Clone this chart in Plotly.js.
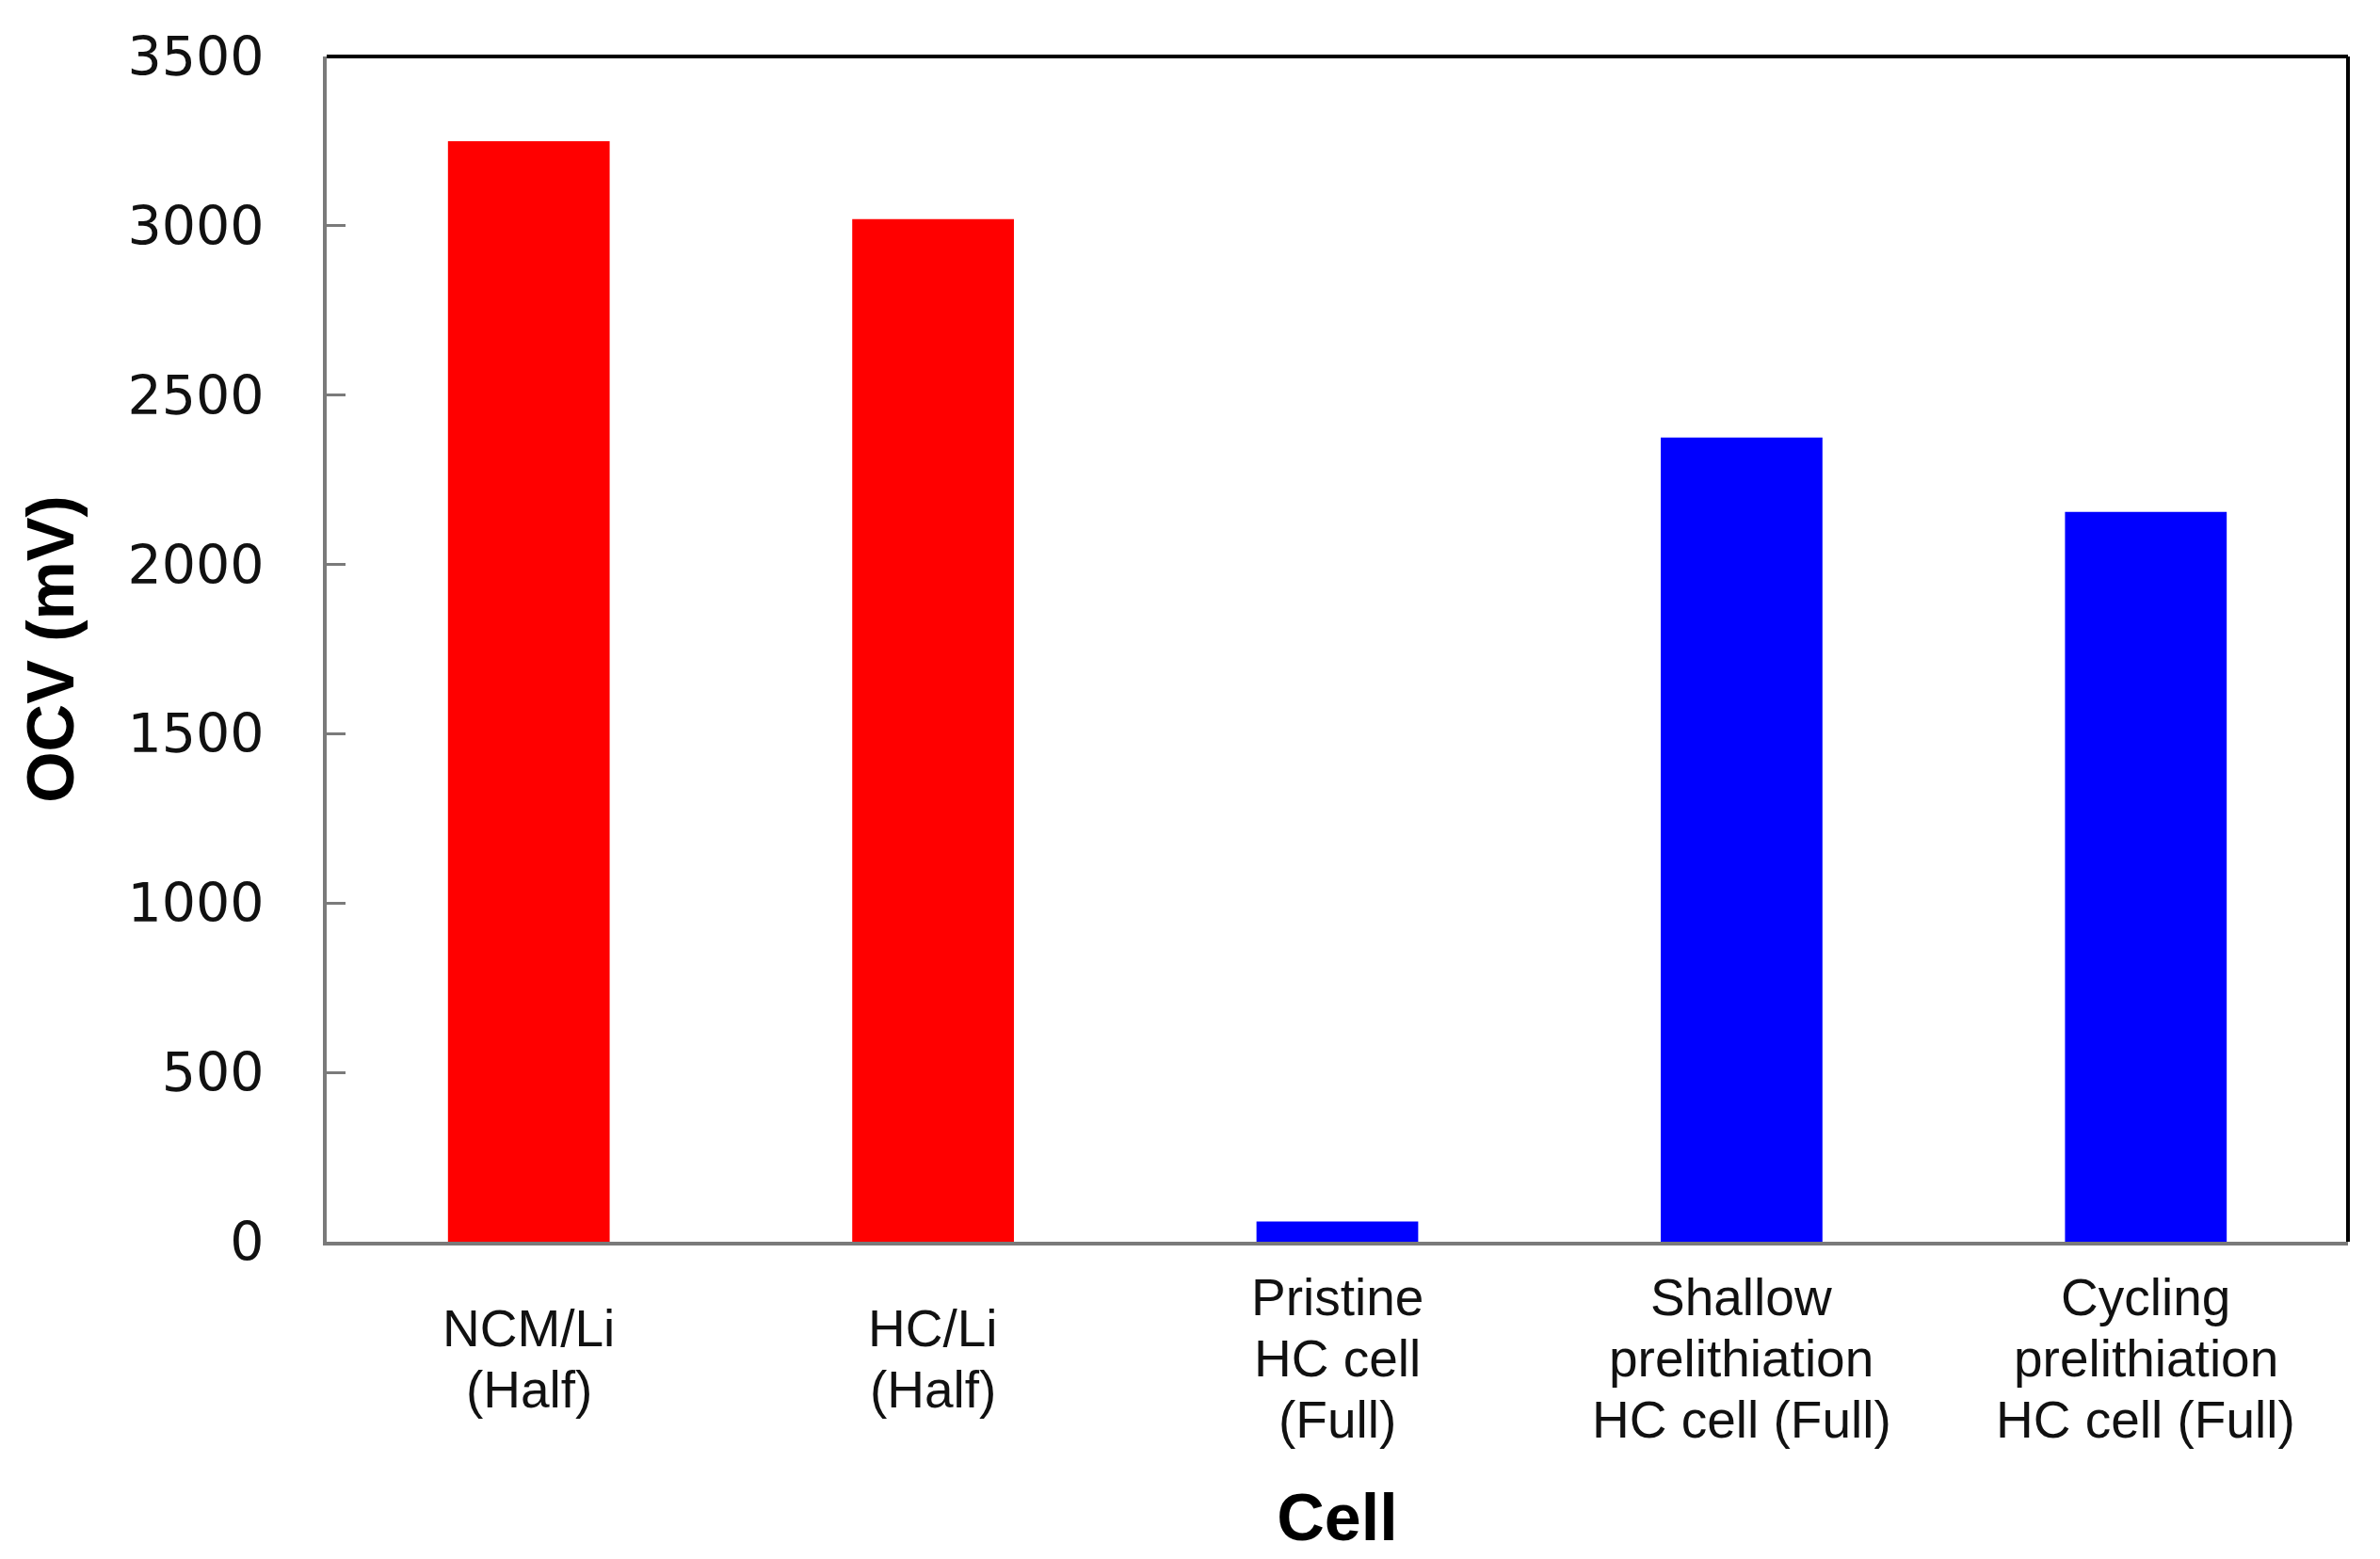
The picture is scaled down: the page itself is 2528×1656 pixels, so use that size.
<!DOCTYPE html>
<html>
<head>
<meta charset="utf-8">
<script src="https://cdn.plot.ly/plotly-3.0.1.min.js"></script>
<style>html,body{margin:0;padding:0;background:#fff;}</style>
</head>
<body>
<div id="chart" style="width:2528px;height:1656px;"></div>
<script>
// Data
var categories = [
  "NCM/Li<br>(Half)",
  "HC/Li<br>(Half)",
  "Pristine<br>HC cell<br>(Full)",
  "Shallow<br>prelithiation<br>HC cell (Full)",
  "Cycling<br>prelithiation<br>HC cell (Full)"
];
var ocvValues = [3250, 3020, 60, 2375, 2155];
var barColors = ["#FF0000", "#FF0000", "#0000FF", "#0000FF", "#0000FF"];
var yTickValues = [0, 500, 1000, 1500, 2000, 2500, 3000, 3500];
var xTitle = "Cell";
var yTitle = "OCV (mV)";

var trace = {
  type: "bar",
  x: categories,
  y: ocvValues,
  width: 0.4,
  marker: { color: barColors, line: { width: 0 } },
  hoverinfo: "x+y"
};

// Category labels as centered multi-line annotations
var annotations = [];
var lineGap = 65;
categories.forEach(function (cat) {
  var lines = cat.split("<br>");
  var n = lines.length;
  lines.forEach(function (ln, j) {
    annotations.push({
      x: cat, xref: "x",
      y: -0.0985, yref: "paper",
      yshift: -(j - (n - 1) / 2) * lineGap,
      text: ln,
      showarrow: false,
      xanchor: "center", yanchor: "middle",
      font: { family: "Liberation Sans, Arial, sans-serif", size: 55, color: "#111" }
    });
  });
});

var layout = {
  width: 2528,
  height: 1656,
  margin: { l: 347, r: 34, t: 60, b: 337, pad: 0 },
  paper_bgcolor: "#ffffff",
  plot_bgcolor: "#ffffff",
  showlegend: false,
  bargap: 0.6,
  xaxis: {
    type: "category",
    range: [-0.5, 4.5],
    showline: true,
    linecolor: "#7a7a7a",
    linewidth: 4,
    ticks: "",
    showticklabels: false,
    showgrid: false,
    zeroline: false,
    fixedrange: true,
    title: {
      text: "<b>" + xTitle + "</b>",
      font: { family: "Liberation Sans, Arial, sans-serif", size: 70, color: "#000" },
      standoff: 266
    }
  },
  yaxis: {
    range: [0, 3500],
    tickvals: yTickValues,
    ticktext: yTickValues.map(String),
    ticks: "inside",
    ticklen: 20,
    tickwidth: 3,
    tickcolor: "#7a7a7a",
    showline: true,
    linecolor: "#7a7a7a",
    linewidth: 4,
    showgrid: false,
    zeroline: false,
    fixedrange: true,
    ticklabelstandoff: 51,
    tickfont: { family: "DejaVu Sans, Verdana, sans-serif", size: 57, color: "#111" },
    title: {
      text: "<b>" + yTitle + "</b>",
      font: { family: "Liberation Sans, Arial, sans-serif", size: 70, color: "#000" },
      standoff: 35
    }
  },
  shapes: [
    { type: "line", xref: "paper", yref: "paper", x0: 0, x1: 1, y0: 1, y1: 1,
      line: { color: "#000", width: 4 } },
    { type: "line", xref: "paper", yref: "paper", x0: 1, x1: 1, y0: 0, y1: 1,
      line: { color: "#000", width: 4 } }
  ],
  annotations: annotations
};

Plotly.newPlot("chart", [trace], layout, { displayModeBar: false, staticPlot: true });
</script>
</body>
</html>
